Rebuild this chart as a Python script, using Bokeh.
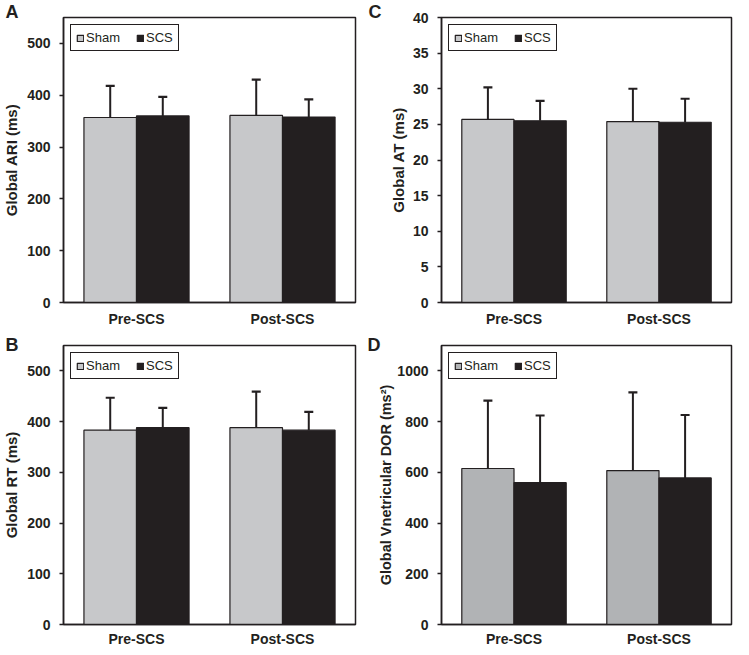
from bokeh.plotting import figure
from bokeh.layouts import gridplot
from bokeh.models import (ColumnDataSource, FixedTicker, Legend, LegendItem, FactorRange)
from bokeh.transform import dodge
from bokeh.embed import file_html
from bokeh.resources import INLINE

# ---------------- data ----------------
categories = ["Pre-SCS", "Post-SCS"]

ari_sham = [357, 361]
ari_sham_sd = [61, 69]
ari_scs = [360, 358]
ari_scs_sd = [37, 34]

rt_sham = [383, 388]
rt_sham_sd = [64, 71]
rt_scs = [388, 383]
rt_scs_sd = [39, 36]

at_sham = [25.7, 25.4]
at_sham_sd = [4.5, 4.6]
at_scs = [25.5, 25.3]
at_scs_sd = [2.8, 3.3]

dor_sham = [615, 607]
dor_sham_sd = [268, 308]
dor_scs = [559, 578]
dor_scs_sd = [265, 248]

ticks_ms = [0, 100, 200, 300, 400, 500]
ticks_at = [0, 5, 10, 15, 20, 25, 30, 35, 40]
ticks_dor = [0, 200, 400, 600, 800, 1000]

FONT = "Liberation Sans"
DARK = "#231f20"
LIGHT = "#c7c8ca"
MID = "#b1b3b5"


def panel(letter, ylabel, sham, sham_sd, scs, scs_sd, ymax, ticks, sham_color,
          width, height, bl, br, bt, bb, lab_std, xstd, letter_off, letter_std, lab_size="15px"):
    src = ColumnDataSource(dict(
        cat=categories,
        sham=sham, scs=scs,
        sham_up=[v + e for v, e in zip(sham, sham_sd)],
        scs_up=[v + e for v, e in zip(scs, scs_sd)],
    ))
    p = figure(x_range=FactorRange(*categories, range_padding=0), y_range=(0, ymax),
               width=width, height=height, output_backend="svg", toolbar_location=None,
               min_border_left=bl, min_border_right=br, min_border_top=bt, min_border_bottom=bb)
    p.xgrid.visible = False
    p.ygrid.visible = False
    p.outline_line_color = DARK
    p.outline_line_width = 1.5
    p.outline_line_alpha = 1

    # panel letter as the title, shifted left into the border
    p.title.text = letter
    p.title.align = "left"
    p.title.offset = letter_off
    p.title.standoff = letter_std
    p.title.text_font = FONT
    p.title.text_font_style = "bold"
    p.title.text_font_size = "18px"
    p.title.text_color = DARK

    r1 = p.vbar(x=dodge("cat", -0.18, range=p.x_range), top="sham", width=0.36, source=src,
                fill_color=sham_color, line_color=DARK, line_width=1.2)
    r2 = p.vbar(x=dodge("cat", 0.18, range=p.x_range), top="scs", width=0.36, source=src,
                fill_color=DARK, line_color=DARK, line_width=1.2)
    for off, lo, hi in [(-0.18, "sham", "sham_up"), (0.18, "scs", "scs_up")]:
        xs = dodge("cat", off, range=p.x_range)
        p.segment(x0=xs, y0=lo, x1=xs, y1=hi, source=src, line_color=DARK, line_width=2)
        p.scatter(x=xs, y=hi, source=src, marker="dash", size=9, line_color=DARK, line_width=2.2)

    # axes
    p.yaxis.ticker = FixedTicker(ticks=ticks)
    p.yaxis.minor_tick_line_color = None
    p.yaxis.minor_tick_out = 0
    p.yaxis.major_tick_in = 0
    p.yaxis.major_tick_out = 4
    p.yaxis.major_tick_line_color = DARK
    p.yaxis.major_tick_line_width = 1.5
    p.yaxis.axis_line_color = DARK
    p.yaxis.axis_line_width = 1.5
    p.yaxis.major_label_standoff = 9
    p.yaxis.major_label_text_font = FONT
    p.yaxis.major_label_text_font_style = "bold"
    p.yaxis.major_label_text_font_size = "14px"
    p.yaxis.major_label_text_color = DARK
    p.yaxis.axis_label = ylabel
    p.yaxis.axis_label_text_font = FONT
    p.yaxis.axis_label_text_font_style = "bold"
    p.yaxis.axis_label_text_font_size = lab_size
    p.yaxis.axis_label_text_color = DARK
    p.yaxis.axis_label_standoff = lab_std

    p.xaxis.major_tick_line_color = None
    p.xaxis.minor_tick_line_color = None
    p.xaxis.major_tick_out = 0
    p.xaxis.major_tick_in = 0
    p.xaxis.minor_tick_out = 0
    p.xaxis.axis_line_color = DARK
    p.xaxis.axis_line_width = 1.5
    p.xaxis.major_label_standoff = xstd
    p.xaxis.major_label_text_font = FONT
    p.xaxis.major_label_text_font_style = "bold"
    p.xaxis.major_label_text_font_size = "14px"
    p.xaxis.major_label_text_color = DARK

    legend = Legend(items=[LegendItem(label="Sham", renderers=[r1]),
                           LegendItem(label="SCS", renderers=[r2])],
                    location="top_left", orientation="horizontal")
    legend.margin = 7
    legend.padding = 5
    legend.spacing = 16
    legend.glyph_width = 8
    legend.glyph_height = 8
    legend.label_standoff = 2
    legend.label_height = 10
    legend.label_width = 10
    legend.label_text_font = FONT
    legend.label_text_font_size = "13px"
    legend.label_text_color = DARK
    legend.border_line_color = DARK
    legend.border_line_width = 1.5
    legend.border_line_alpha = 1
    legend.background_fill_alpha = 1
    p.add_layout(legend, "center")
    return p


pA = panel("A", "Global ARI (ms)", ari_sham, ari_sham_sd, ari_scs, ari_scs_sd, 550, ticks_ms, LIGHT,
           362, 332, 58, 7, 17, 30, 4, 8, -58, -9)
pC = panel("C", "Global AT (ms)", at_sham, at_sham_sd, at_scs, at_scs_sd, 40, ticks_at, LIGHT,
           371, 332, 76, 2, 17, 30, 3, 8, -73, -9)
pB = panel("B", "Global RT (ms)", rt_sham, rt_sham_sd, rt_scs, rt_scs_sd, 550, ticks_ms, LIGHT,
           362, 320, 58, 7, 13, 28, 4, 6, -58, -19)
pD = panel("D", "Global Vnetricular DOR (ms\u00b2)", dor_sham, dor_sham_sd, dor_scs, dor_scs_sd, 1100,
           ticks_dor, MID, 371, 320, 79, 2, 9, 28, 0, 6, -74, -19, "14.5px")

grid = gridplot([[pA, pC], [pB, pD]], toolbar_location=None)

open("out.html", "w").write(file_html(grid, INLINE))
